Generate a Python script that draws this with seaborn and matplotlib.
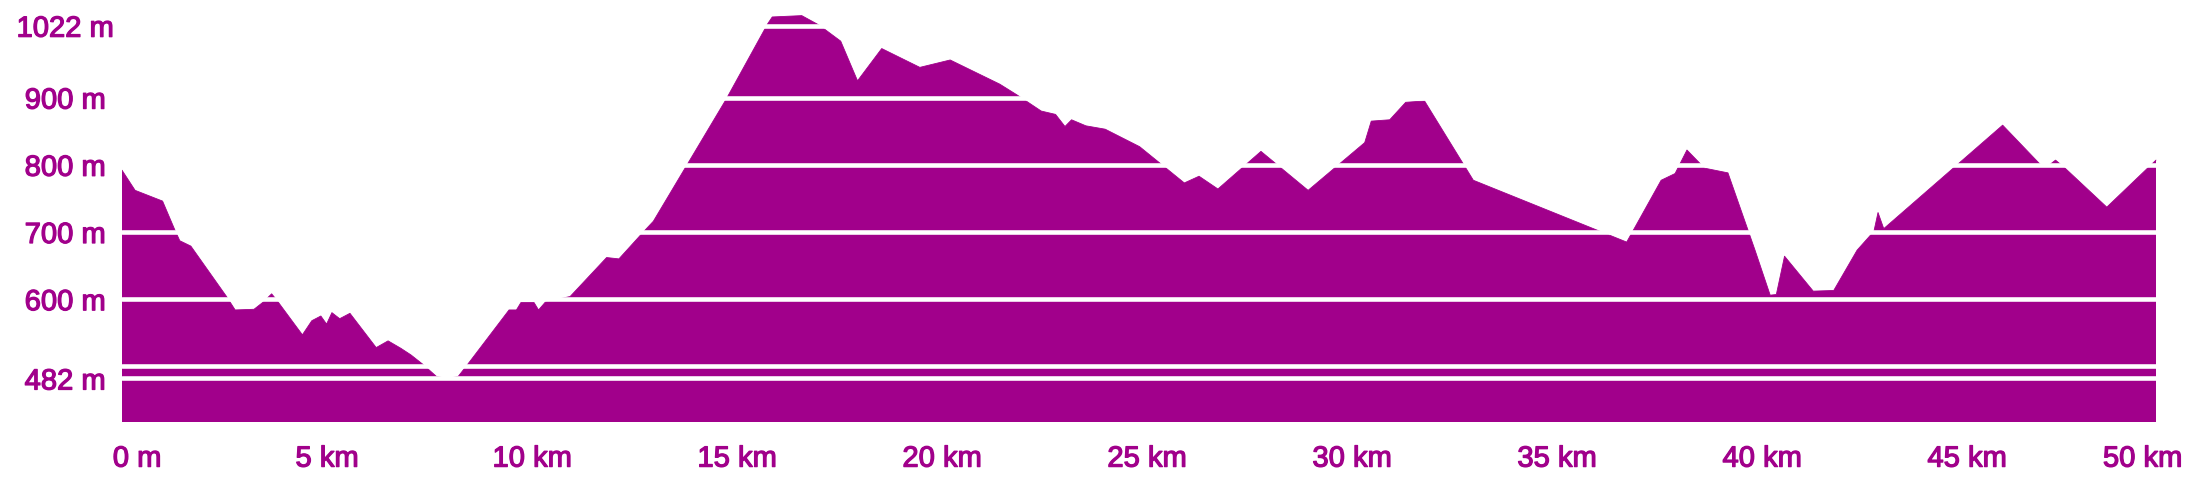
import matplotlib
matplotlib.use("Agg")
import matplotlib.pyplot as plt
import matplotlib.transforms as mtransforms
import matplotlib.patheffects as pe
import seaborn as sns
import pandas as pd

# ── Profile data ─────────────────────────────────────────────
dist_km = [
    0.00, 0.32, 0.99, 1.29, 1.41, 1.68, 2.55, 2.76, 3.22, 3.45,
    3.65, 3.77, 4.40, 4.63, 4.85, 4.99, 5.12, 5.31, 5.56, 6.20,
    6.49, 6.80, 7.05, 7.34, 7.67, 7.93, 8.20, 8.43, 9.44, 9.62,
    9.73, 10.05, 10.16, 10.33, 10.93, 11.82, 12.12, 12.73, 12.96, 14.73,
    15.75, 15.86, 16.58, 17.00, 17.53, 17.94, 18.53, 19.46, 20.20, 21.41,
    21.83, 22.42, 22.77, 23.00, 23.16, 23.51, 23.98, 24.82, 25.91, 26.27,
    26.73, 27.78, 28.93, 30.31, 30.47, 30.92, 31.31, 31.77, 32.96, 36.70,
    37.54, 37.88, 38.17, 38.60, 39.17, 39.83, 40.20, 40.35, 40.55, 41.25,
    41.75, 42.32, 42.73, 42.83, 42.97, 45.87, 46.78, 46.95, 47.16, 47.41,
    48.41, 49.61,
]
elev_m = [
    792, 762, 746, 703, 687, 679, 604, 584, 585, 596,
    608, 599, 547, 568, 575, 563, 580, 571, 579, 528,
    538, 527, 517, 503, 485, 482, 485, 503, 584, 584,
    595, 595, 584, 596, 604, 662, 660, 701, 716, 897,
    1010, 1020, 1022, 1008, 984, 925, 973, 945, 956, 920,
    904, 880, 875, 857, 867, 858, 853, 827, 773, 783,
    764, 820, 762, 833, 865, 867, 893, 895, 777, 685,
    777, 787, 822, 795, 788, 673, 606, 607, 664, 612,
    613, 673, 701, 729, 705, 859, 801, 797, 807, 794,
    737, 807,
]

x_ticks = [0, 5, 10, 15, 20, 25, 30, 35, 40, 45, 50]
x_labels = ["0 m", "5 km", "10 km", "15 km", "20 km", "25 km",
            "30 km", "35 km", "40 km", "45 km", "50 km"]
y_ticks = [482, 500, 600, 700, 800, 900, 1007]
y_labels = ["482 m", "", "600 m", "700 m", "800 m", "900 m", "1022 m"]

PURPLE = "#a1008b"

df = pd.DataFrame({"km": dist_km, "m": elev_m})

sns.set_theme(style="white")
plt.rcParams["font.family"] = ["Liberation Sans", "DejaVu Sans"]

fig = plt.figure(figsize=(21.93, 4.98), dpi=100)
ax = fig.add_axes([0.05563, 0.1532, 0.93479, 0.8265])

ax.fill_between(df["km"], df["m"], 0, color=PURPLE, linewidth=0, zorder=1)
sns.lineplot(data=df, x="km", y="m", color=PURPLE, linewidth=0.6, ax=ax, zorder=1.5)

ax.set_xlim(0, 50)
ax.set_ylim(417.7, 1030.2)

ax.set_xticks(x_ticks, x_labels)
ax.set_yticks(y_ticks, y_labels)
ax.set_xlabel("")
ax.set_ylabel("")

# white grid lines drawn over the filled profile
ax.set_axisbelow(False)
ax.yaxis.grid(True, color="white", linewidth=3.3)
ax.xaxis.grid(False)
for s in ax.spines.values():
    s.set_visible(False)

ax.tick_params(axis="both", length=0, colors=PURPLE, labelsize=21)
ax.tick_params(axis="x", pad=16.5)
ax.tick_params(axis="y", pad=41)
for lab in ax.get_yticklabels():
    lab.set_horizontalalignment("center")

# slightly heavier labels, like the reference
thick = [pe.Stroke(linewidth=0.9, foreground=PURPLE), pe.Normal()]
for lab in ax.get_xticklabels() + ax.get_yticklabels():
    lab.set_path_effects(thick)

# keep first and last distance labels inside the figure
xl = ax.get_xticklabels()
xl[0].set_transform(xl[0].get_transform()
                    + mtransforms.ScaledTranslation(0.15, 0, fig.dpi_scale_trans))
xl[-1].set_transform(xl[-1].get_transform()
                     + mtransforms.ScaledTranslation(-0.295, 0, fig.dpi_scale_trans))

fig.savefig("out.png", dpi=100)
plt.close(fig)
